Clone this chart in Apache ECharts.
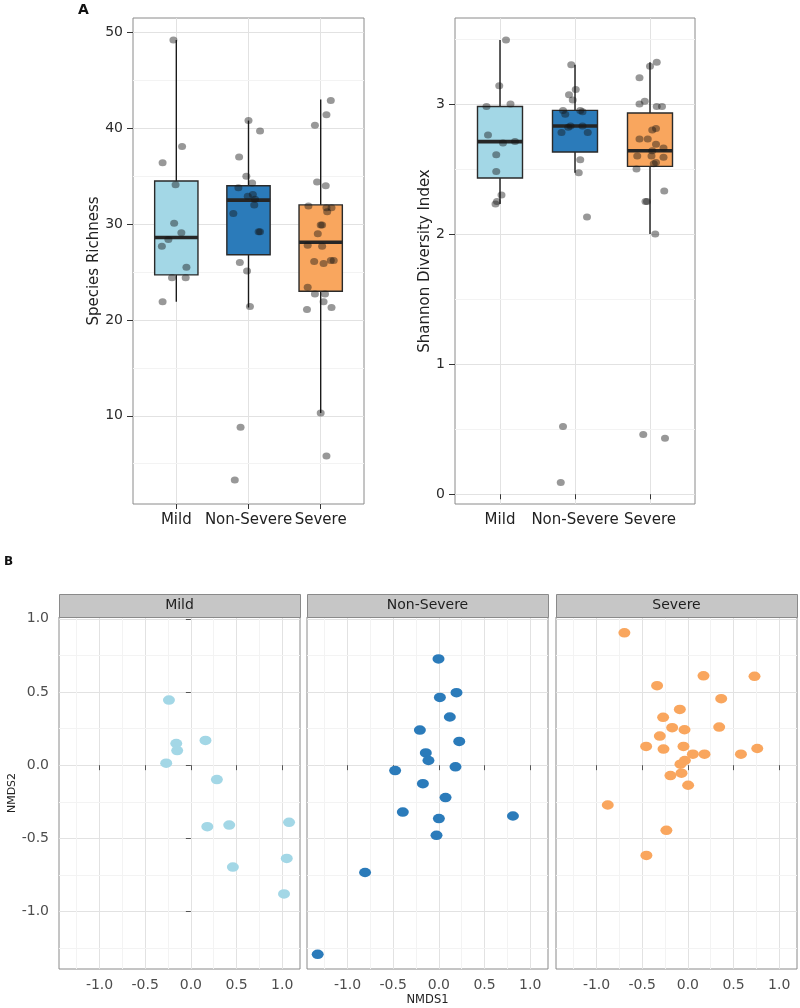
<!DOCTYPE html>
<html><head><meta charset="utf-8">
<script src="https://cdn.jsdelivr.net/npm/echarts@6/dist/echarts.min.js"></script>
<style>html,body{margin:0;padding:0;background:#fff}#c{width:800px;height:1008px}</style>
</head><body><div id="c"></div><script>
const categories = ['Mild', 'Non-Severe', 'Severe'];
const groupColors = ['#a3d7e6', '#2b7bba', '#f9a65e'];

// box stats: [lowWhisker, q1, median, q3, highWhisker]
const richnessBox = [[21.9, 24.7, 28.6, 34.5, 49.2], [21.3, 26.8, 32.5, 34.0, 40.8], [10.3, 23.0, 28.1, 32.0, 43.0]];
const shannonBox = [[2.23, 2.43, 2.71, 2.98, 3.49], [2.47, 2.63, 2.83, 2.95, 3.30], [2.00, 2.52, 2.64, 2.93, 3.32]];

// jittered sample points (value, horizontal jitter offset)
const richMild = [49.2, 38.1, 36.4, 34.1, 30.1, 29.1, 28.4, 27.7, 25.5, 24.4, 24.4, 21.9];
const richMildJit = [-0.04, 0.08, -0.19, -0.01, -0.03, 0.07, -0.11, -0.2, 0.14, -0.06, 0.13, -0.19];
const richNon = [40.8, 39.7, 37.0, 35.0, 34.3, 33.8, 33.1, 32.9, 32.6, 32.0, 31.1, 29.2, 29.2, 26.0, 25.1, 21.4, 8.8, 3.3];
const richNonJit = [0.0, 0.16, -0.13, -0.03, 0.05, -0.14, 0.06, -0.01, 0.09, 0.08, -0.21, 0.14, 0.16, -0.12, -0.02, 0.02, -0.11, -0.19];
const richSev = [42.9, 41.4, 40.3, 34.4, 34.0, 31.9, 31.7, 31.7, 31.3, 29.9, 29.9, 29.0, 27.8, 27.7, 26.1, 25.9, 26.2, 26.2, 23.4, 22.7, 22.7, 21.9, 21.3, 21.1, 10.3, 5.8];
const richSevJit = [0.14, 0.08, -0.08, -0.05, 0.07, -0.17, 0.08, 0.15, 0.09, 0.0, 0.02, -0.04, -0.18, 0.02, -0.09, 0.04, 0.14, 0.18, -0.18, -0.08, 0.06, 0.04, 0.15, -0.19, 0.0, 0.08];

const shanMild = [3.49, 3.14, 3.00, 2.98, 2.76, 2.70, 2.71, 2.61, 2.48, 2.30, 2.25, 2.23];
const shanMildJit = [0.08, -0.01, 0.14, -0.18, -0.16, 0.04, 0.2, -0.05, -0.05, 0.02, -0.04, -0.06];
const shanNon = [3.30, 3.11, 3.07, 3.03, 2.95, 2.95, 2.94, 2.92, 2.83, 2.82, 2.83, 2.78, 2.78, 2.57, 2.47, 2.13, 0.52, 0.09];
const shanNonJit = [-0.05, 0.01, -0.08, -0.03, -0.16, 0.07, 0.10, -0.13, -0.06, -0.09, 0.10, -0.18, 0.17, 0.07, 0.05, 0.16, -0.16, -0.19];
const shanSev = [3.32, 3.29, 3.20, 3.02, 3.00, 2.98, 2.98, 2.81, 2.80, 2.73, 2.73, 2.69, 2.66, 2.64, 2.60, 2.60, 2.59, 2.55, 2.54, 2.50, 2.33, 2.25, 2.25, 2.00, 0.46, 0.43];
const shanSevJit = [0.09, 0.0, -0.14, -0.07, -0.14, 0.09, 0.16, 0.08, 0.03, -0.14, -0.03, 0.08, 0.18, 0.03, -0.17, 0.02, 0.18, 0.08, 0.05, -0.18, 0.19, -0.06, -0.04, 0.07, -0.09, 0.2];

// NMDS ordination
const nmdsMildX = [-0.24, -0.16, -0.15, 0.16, -0.27, 0.285, 0.18, 0.42, 1.075, 1.05, 0.46, 1.02];
const nmdsMildY = [0.445, 0.148, 0.10, 0.169, 0.014, -0.098, -0.42, -0.409, -0.39, -0.637, -0.696, -0.879];
const nmdsNonX = [-0.004, 0.011, 0.193, 0.12, -0.208, 0.223, -0.143, -0.114, -0.479, 0.182, -0.175, 0.073, -0.395, 0.0, 0.811, -0.026, -0.808, -1.327];
const nmdsNonY = [0.726, 0.463, 0.495, 0.329, 0.24, 0.162, 0.084, 0.032, -0.037, -0.011, -0.126, -0.221, -0.32, -0.365, -0.347, -0.479, -0.733, -1.292];
const nmdsSevX = [-0.695, 0.171, 0.73, -0.337, 0.365, -0.088, -0.271, -0.172, -0.037, 0.343, -0.307, -0.457, -0.267, -0.048, 0.055, 0.182, 0.581, 0.76, -0.033, -0.081, -0.07, -0.191, 0.003, -0.877, -0.235, -0.454];
const nmdsSevY = [0.904, 0.61, 0.607, 0.543, 0.454, 0.381, 0.327, 0.256, 0.242, 0.26, 0.199, 0.128, 0.11, 0.128, 0.075, 0.075, 0.075, 0.114, 0.032, 0.007, -0.055, -0.071, -0.137, -0.272, -0.445, -0.616];

// ticks
const catTicks = [1, 2, 3];
const richTicks = [10, 20, 30, 40, 50];
const richMinor = [5, 15, 25, 35, 45];
const shanTicks = [0, 1, 2, 3];
const shanMinor = [0.5, 1.5, 2.5, 3.5];
const nmdsTicks = [-1, -0.5, 0, 0.5, 1];
const nmdsMinor = [-1.25, -0.75, -0.25, 0.25, 0.75];

const FONT = 'DejaVu Sans';
const majorColor = '#e2e2e2';
const minorColor = '#f3f3f3';

function jitterData(vals, jit, cat) { return vals.map((v, i) => [cat + jit[i], v]); }
function xy(xs, ys) { return xs.map((x, i) => [x, ys[i]]); }

function boxSeries(stats, xi, yi) {
  return {
    type: 'custom', xAxisIndex: xi, yAxisIndex: yi, z: 2, silent: true,
    data: stats.map((s, i) => [i + 1].concat(s)),
    renderItem: function (params, api) {
      const x = api.value(0);
      const lo = api.coord([x, api.value(1)]);
      const q1 = api.coord([x, api.value(2)]);
      const md = api.coord([x, api.value(3)]);
      const q3 = api.coord([x, api.value(4)]);
      const hi = api.coord([x, api.value(5)]);
      const hw = api.size([0.3, 0])[0];
      const idx = params.dataIndex;
      return {
        type: 'group', children: [
          { type: 'line', shape: { x1: lo[0], y1: lo[1], x2: q1[0], y2: q1[1] }, style: { stroke: '#1a1a1a', lineWidth: 1.4 } },
          { type: 'line', shape: { x1: q3[0], y1: q3[1], x2: hi[0], y2: hi[1] }, style: { stroke: '#1a1a1a', lineWidth: 1.4 } },
          { type: 'rect', shape: { x: q3[0] - hw, y: q3[1], width: 2 * hw, height: q1[1] - q3[1] }, style: { fill: groupColors[idx], stroke: '#2a2a2a', lineWidth: 1.4 } },
          { type: 'line', shape: { x1: md[0] - hw, y1: md[1], x2: md[0] + hw, y2: md[1] }, style: { stroke: '#262626', lineWidth: 3.6 } }
        ]
      };
    }
  };
}

function minorLines(vals, axisKey, xi, yi) {
  return {
    type: 'scatter', xAxisIndex: xi, yAxisIndex: yi, data: [], silent: true,
    markLine: {
      silent: true, symbol: 'none', z: 1, animation: false,
      label: { show: false },
      lineStyle: { color: minorColor, width: 1, type: 'solid' },
      emphasis: { disabled: true },
      data: vals.map(v => ({ [axisKey]: v }))
    }
  };
}

const grids = [
  { left: 133, top: 18, width: 231, height: 486 },
  { left: 455, top: 18, width: 240, height: 486 },
  { left: 59, top: 617, width: 241, height: 352 },
  { left: 307, top: 617, width: 241, height: 352 },
  { left: 556, top: 617, width: 241, height: 352 }
].map(g => Object.assign(g, { show: true, borderColor: '#8a8a8a', borderWidth: 1, backgroundColor: '#fff' }));

const tickLabel = { fontFamily: FONT, fontSize: 14, color: '#2b2b2b' };

function catXAxis(gi) {
  return {
    type: 'value', gridIndex: gi, min: 0.4, max: 3.6,
    axisLine: { show: false },
    axisTick: { show: true, customValues: catTicks, length: 5, lineStyle: { color: '#333' } },
    axisLabel: Object.assign({ customValues: catTicks, margin: 9, fontSize: 15, formatter: v => categories[Math.round(v) - 1] }, { fontFamily: FONT, color: '#222' }),
    splitLine: { show: true, lineStyle: { color: majorColor, width: 1 } }
  };
}
function valYAxis(gi, min, max, ticks, name, gap) {
  return {
    type: 'value', gridIndex: gi, min: min, max: max,
    name: name, nameLocation: 'middle', nameGap: gap,
    nameTextStyle: { fontFamily: FONT, fontSize: 15, color: '#222' },
    axisLine: { show: false },
    axisTick: { show: true, customValues: ticks, length: 6, lineStyle: { color: '#333' } },
    axisLabel: Object.assign({ customValues: ticks, margin: 10 }, tickLabel),
    splitLine: { show: true, lineStyle: { color: majorColor, width: 1 } }
  };
}
function nmdsXAxis(gi, name) {
  return {
    type: 'value', gridIndex: gi, min: -1.444, max: 1.195,
    name: name || '', nameLocation: 'middle', nameGap: 25,
    nameTextStyle: { fontFamily: FONT, fontSize: 11.5, color: '#222' },
    axisLine: { show: false },
    axisTick: { show: true, customValues: nmdsTicks, length: 5, lineStyle: { color: '#555' } },
    axisLabel: { customValues: nmdsTicks, margin: 9, fontFamily: FONT, fontSize: 14, color: '#4d4d4d', formatter: v => v.toFixed(1) },
    splitLine: { show: true, lineStyle: { color: majorColor, width: 1 } }
  };
}
function nmdsYAxis(gi, showLabels) {
  return {
    type: 'value', gridIndex: gi, min: -1.392, max: 1.012,
    name: showLabels ? 'NMDS2' : '', nameLocation: 'middle', nameGap: 40,
    nameTextStyle: { fontFamily: FONT, fontSize: 11, color: '#222' },
    axisLine: { show: false },
    axisTick: { show: showLabels, customValues: nmdsTicks, length: 5, lineStyle: { color: '#555' } },
    axisLabel: { show: showLabels, customValues: nmdsTicks, margin: 10, fontFamily: FONT, fontSize: 14, color: '#4d4d4d', formatter: v => v.toFixed(1) },
    splitLine: { show: true, lineStyle: { color: majorColor, width: 1 } }
  };
}

const jitterStyle = { color: 'rgba(20,20,20,0.55)' };
function jitterSeries(data, xi, yi) {
  return { type: 'scatter', xAxisIndex: xi, yAxisIndex: yi, z: 3, symbolSize: [8, 7], itemStyle: jitterStyle, data: data, silent: true };
}
function nmdsSeries(data, gi, color) {
  return { type: 'scatter', xAxisIndex: gi, yAxisIndex: gi, z: 3, symbolSize: [12, 9.5], itemStyle: { color: color, opacity: 1 }, data: data, silent: true };
}

const stripGraphics = [];
[2, 3, 4].forEach((gi, k) => {
  const g = grids[gi];
  stripGraphics.push({ type: 'rect', left: g.left, top: 594, shape: { width: g.width, height: 23 }, style: { fill: '#c6c6c6', stroke: '#8a8a8a', lineWidth: 1 }, z: 10 });
  stripGraphics.push({ type: 'text', x: g.left + g.width / 2, y: 605.5, style: { text: categories[k], fontFamily: FONT, fontSize: 14, fill: '#1e1e1e', align: 'center', verticalAlign: 'middle' }, z: 11 });
});

const option = {
  animation: false,
  backgroundColor: '#fff',
  textStyle: { fontFamily: FONT },
  grid: grids,
  xAxis: [catXAxis(0), catXAxis(1), nmdsXAxis(2), nmdsXAxis(3, 'NMDS1'), nmdsXAxis(4)],
  yAxis: [
    valYAxis(0, 0.8, 51.5, richTicks, 'Species Richness', 30),
    valYAxis(1, -0.075, 3.66, shanTicks, 'Shannon Diversity Index', 22),
    nmdsYAxis(2, true), nmdsYAxis(3, false), nmdsYAxis(4, false)
  ],
  graphic: [
    { type: 'text', x: 78, y: 3, style: { text: 'A', fontFamily: FONT, fontSize: 14, fontWeight: 'bold', fill: '#111' } },
    { type: 'text', x: 4, y: 556, style: { text: 'B', fontFamily: FONT, fontSize: 12, fontWeight: 'bold', fill: '#111' } }
  ].concat(stripGraphics),
  series: [
    minorLines(richMinor, 'yAxis', 0, 0),
    minorLines(shanMinor, 'yAxis', 1, 1),
    boxSeries(richnessBox, 0, 0),
    boxSeries(shannonBox, 1, 1),
    jitterSeries(jitterData(richMild, richMildJit, 1), 0, 0),
    jitterSeries(jitterData(richNon, richNonJit, 2), 0, 0),
    jitterSeries(jitterData(richSev, richSevJit, 3), 0, 0),
    jitterSeries(jitterData(shanMild, shanMildJit, 1), 1, 1),
    jitterSeries(jitterData(shanNon, shanNonJit, 2), 1, 1),
    jitterSeries(jitterData(shanSev, shanSevJit, 3), 1, 1)
  ]
};
[2, 3, 4].forEach(gi => {
  option.series.push(minorLines(nmdsMinor, 'xAxis', gi, gi));
  option.series.push(minorLines(nmdsMinor, 'yAxis', gi, gi));
});
option.series.push(nmdsSeries(xy(nmdsMildX, nmdsMildY), 2, groupColors[0]));
option.series.push(nmdsSeries(xy(nmdsNonX, nmdsNonY), 3, groupColors[1]));
option.series.push(nmdsSeries(xy(nmdsSevX, nmdsSevY), 4, groupColors[2]));

const chart = echarts.init(document.getElementById('c'), null, { renderer: 'canvas' });
chart.setOption(option);
</script></body></html>
